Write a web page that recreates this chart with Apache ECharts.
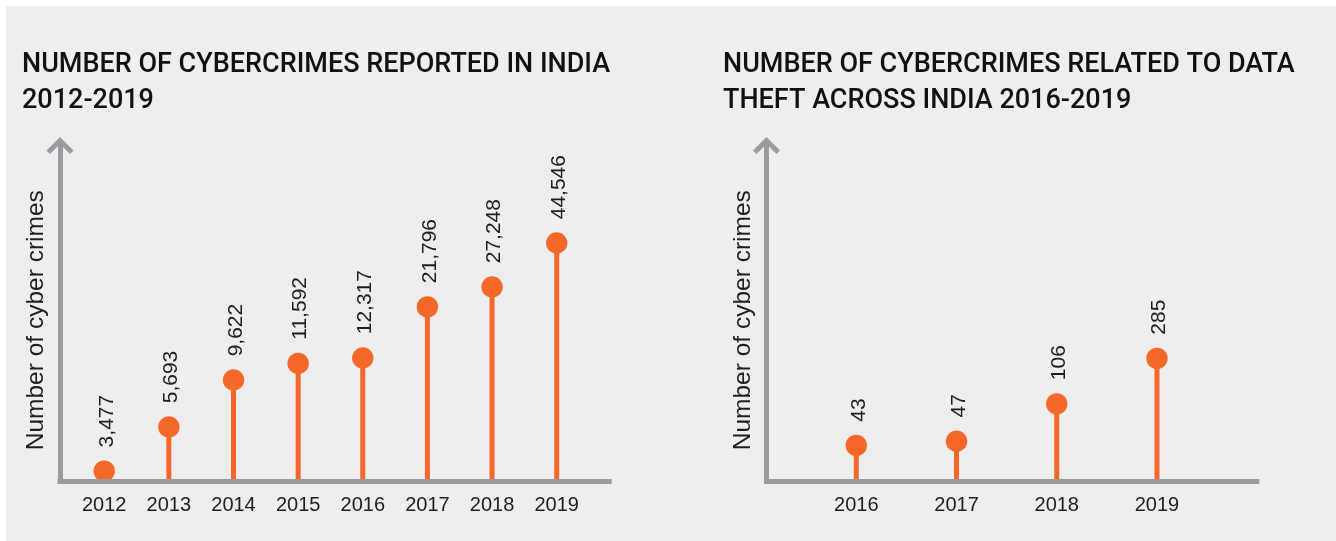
<!DOCTYPE html>
<html>
<head>
<meta charset="utf-8">
<script src="https://cdn.jsdelivr.net/npm/echarts@6/dist/echarts.min.js"></script>
<style>
  html, body { margin: 0; padding: 0; background: #ffffff; }
  #wrap { position: relative; width: 1336px; height: 541px; overflow: hidden; }
  #panel { position: absolute; left: 6px; top: 6px; right: 0; bottom: 0; background: #eeeeee; }
  #chart { position: absolute; left: 0; top: 0; width: 1336px; height: 541px; }
</style>
</head>
<body>
<div id="wrap"><div id="panel"></div><div id="chart"></div></div>
<script>
// ---- data ----
const leftTitle = 'NUMBER OF CYBERCRIMES REPORTED IN INDIA\n2012-2019';
const rightTitle = 'NUMBER OF CYBERCRIMES RELATED TO DATA\nTHEFT ACROSS INDIA 2016-2019';
const yAxisName = 'Number of cyber crimes';
const leftYears = [2012, 2013, 2014, 2015, 2016, 2017, 2018, 2019];
const leftValues = [3477, 5693, 9622, 11592, 12317, 21796, 27248, 44546];
const rightYears = [2016, 2017, 2018, 2019];
const rightValues = [43, 47, 106, 285];

// ---- styling / layout ----
const ORANGE = '#f5682a';
const GRAY = '#9b9b9f';
const TEXT = '#1e1e1e';
const LABEL_FONT = '"Liberation Sans", Arial, sans-serif';
const TITLE_FONT = 'Roboto, "Noto Sans", sans-serif';
const DOT_R = 10.7;
const CHEVRON = 'path://M0,13.5 L13.5,0 L27,13.5 L23.5,17 L13.5,7 L3.5,17 Z';

// axis ranges (log scale, compressed like the original)
const leftY = { min: 3112, max: 132500 };
const rightY = { min: 19.8, max: 29170 };
const leftX = { min: 2011.316, max: 2019.812 };
const rightX = { min: 2015.104, max: 2019.996 };

function fmt(v) { return v.toLocaleString('en-US'); }

function lollipop(yMin) {
  return function (params, api) {
    const x = api.value(0), v = api.value(1);
    const top = api.coord([x, v]);
    const base = api.coord([x, yMin]);
    return {
      type: 'group',
      children: [
        { type: 'line', shape: { x1: top[0], y1: top[1], x2: base[0], y2: base[1] },
          style: { stroke: ORANGE, lineWidth: 5 } },
        { type: 'circle', shape: { cx: top[0], cy: top[1], r: DOT_R },
          style: { fill: ORANGE } },
        { type: 'text', x: top[0] + 2.5, y: top[1] - DOT_R - 13, rotation: Math.PI / 2,
          style: { text: fmt(v), fill: TEXT, font: '21px ' + LABEL_FONT,
                   align: 'left', verticalAlign: 'middle' } }
      ]
    };
  };
}

function xAxisCfg(idx, range, years) {
  return {
    type: 'value', gridIndex: idx, min: range.min, max: range.max, z: 5,
    axisLine: { show: true, lineStyle: { color: GRAY, width: 5, cap: 'square' } },
    axisTick: { show: false }, splitLine: { show: false },
    axisLabel: { customValues: years, formatter: v => String(v), color: TEXT,
                 fontSize: 20, fontFamily: LABEL_FONT, margin: 14 }
  };
}
function yAxisCfg(idx, range) {
  return {
    type: 'log', logBase: 10, gridIndex: idx, min: range.min, max: range.max, z: 5,
    name: yAxisName, nameLocation: 'middle', nameRotate: 90, nameGap: 11,
    nameTextStyle: { color: TEXT, fontSize: 24.5, fontFamily: LABEL_FONT, padding: [0, 14, 0, 0] },
    axisLine: { show: true, symbol: ['none', CHEVRON], symbolSize: [27, 17], symbolOffset: [0, 0],
                lineStyle: { color: GRAY, width: 5, cap: 'square' } },
    axisTick: { show: false }, splitLine: { show: false }, axisLabel: { show: false }
  };
}

const chart = echarts.init(document.getElementById('chart'), null, { renderer: 'canvas' });
chart.setOption({
  backgroundColor: 'transparent',
  animation: false,
  title: [
    { text: leftTitle, left: 17, top: 42,
      textStyle: { fontFamily: TITLE_FONT, fontWeight: 500, fontSize: 27, lineHeight: 36, color: '#111' } },
    { text: rightTitle, left: 718, top: 42,
      textStyle: { fontFamily: TITLE_FONT, fontWeight: 500, fontSize: 27, lineHeight: 36, color: '#111' } }
  ],
  grid: [
    { left: 60, right: 1336 - 609.2, top: 145.5, bottom: 60 },
    { left: 766.5, right: 1336 - 1256.8, top: 145.5, bottom: 60 }
  ],
  xAxis: [xAxisCfg(0, leftX, leftYears), xAxisCfg(1, rightX, rightYears)],
  yAxis: [yAxisCfg(0, leftY), yAxisCfg(1, rightY)],
  series: [
    { type: 'custom', xAxisIndex: 0, yAxisIndex: 0, renderItem: lollipop(leftY.min),
      data: leftYears.map((y, i) => [y, leftValues[i]]), clip: false },
    { type: 'custom', xAxisIndex: 1, yAxisIndex: 1, renderItem: lollipop(rightY.min),
      data: rightYears.map((y, i) => [y, rightValues[i]]), clip: false }
  ]
});
</script>
</body>
</html>
